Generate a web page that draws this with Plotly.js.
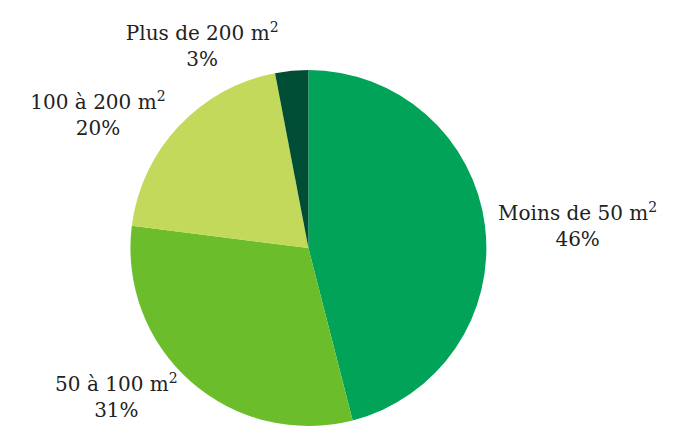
<!DOCTYPE html>
<html><head><meta charset="utf-8">
<script src="https://cdn.plot.ly/plotly-3.0.1.min.js"></script>
<style>body{margin:0;background:#fff}#chart{width:673px;height:442px}</style>
</head><body><div id="chart"></div>
<script>
const categories = ["Moins de 50 m<sup>2</sup>", "50 à 100 m<sup>2</sup>", "100 à 200 m<sup>2</sup>", "Plus de 200 m<sup>2</sup>"];
const values = [46, 31, 20, 3];
const colors = ["#00a358", "#6bbd2b", "#c2d95b", "#004d36"];

const trace = {
  type: "pie",
  labels: categories,
  values: values,
  sort: false,
  direction: "clockwise",
  rotation: 0,
  marker: {colors: colors, line: {width: 0}},
  textinfo: "label+percent",
  texttemplate: "%{label}<br>%{value}%",
  textposition: "outside",
  outsidetextfont: {family: "DejaVu Serif", size: 20, color: "#222"},
  hoverinfo: "none",
  showlegend: false,
  domain: {x: [0.1938, 0.7227], y: [0.0362, 0.8416]}
};
Plotly.newPlot("chart", [trace], {
  width: 673, height: 442,
  margin: {l: 0, r: 0, t: 0, b: 0},
  paper_bgcolor: "#fff",
  font: {family: "DejaVu Serif", size: 20, color: "#222"}
}, {staticPlot: true});
</script></body></html>
